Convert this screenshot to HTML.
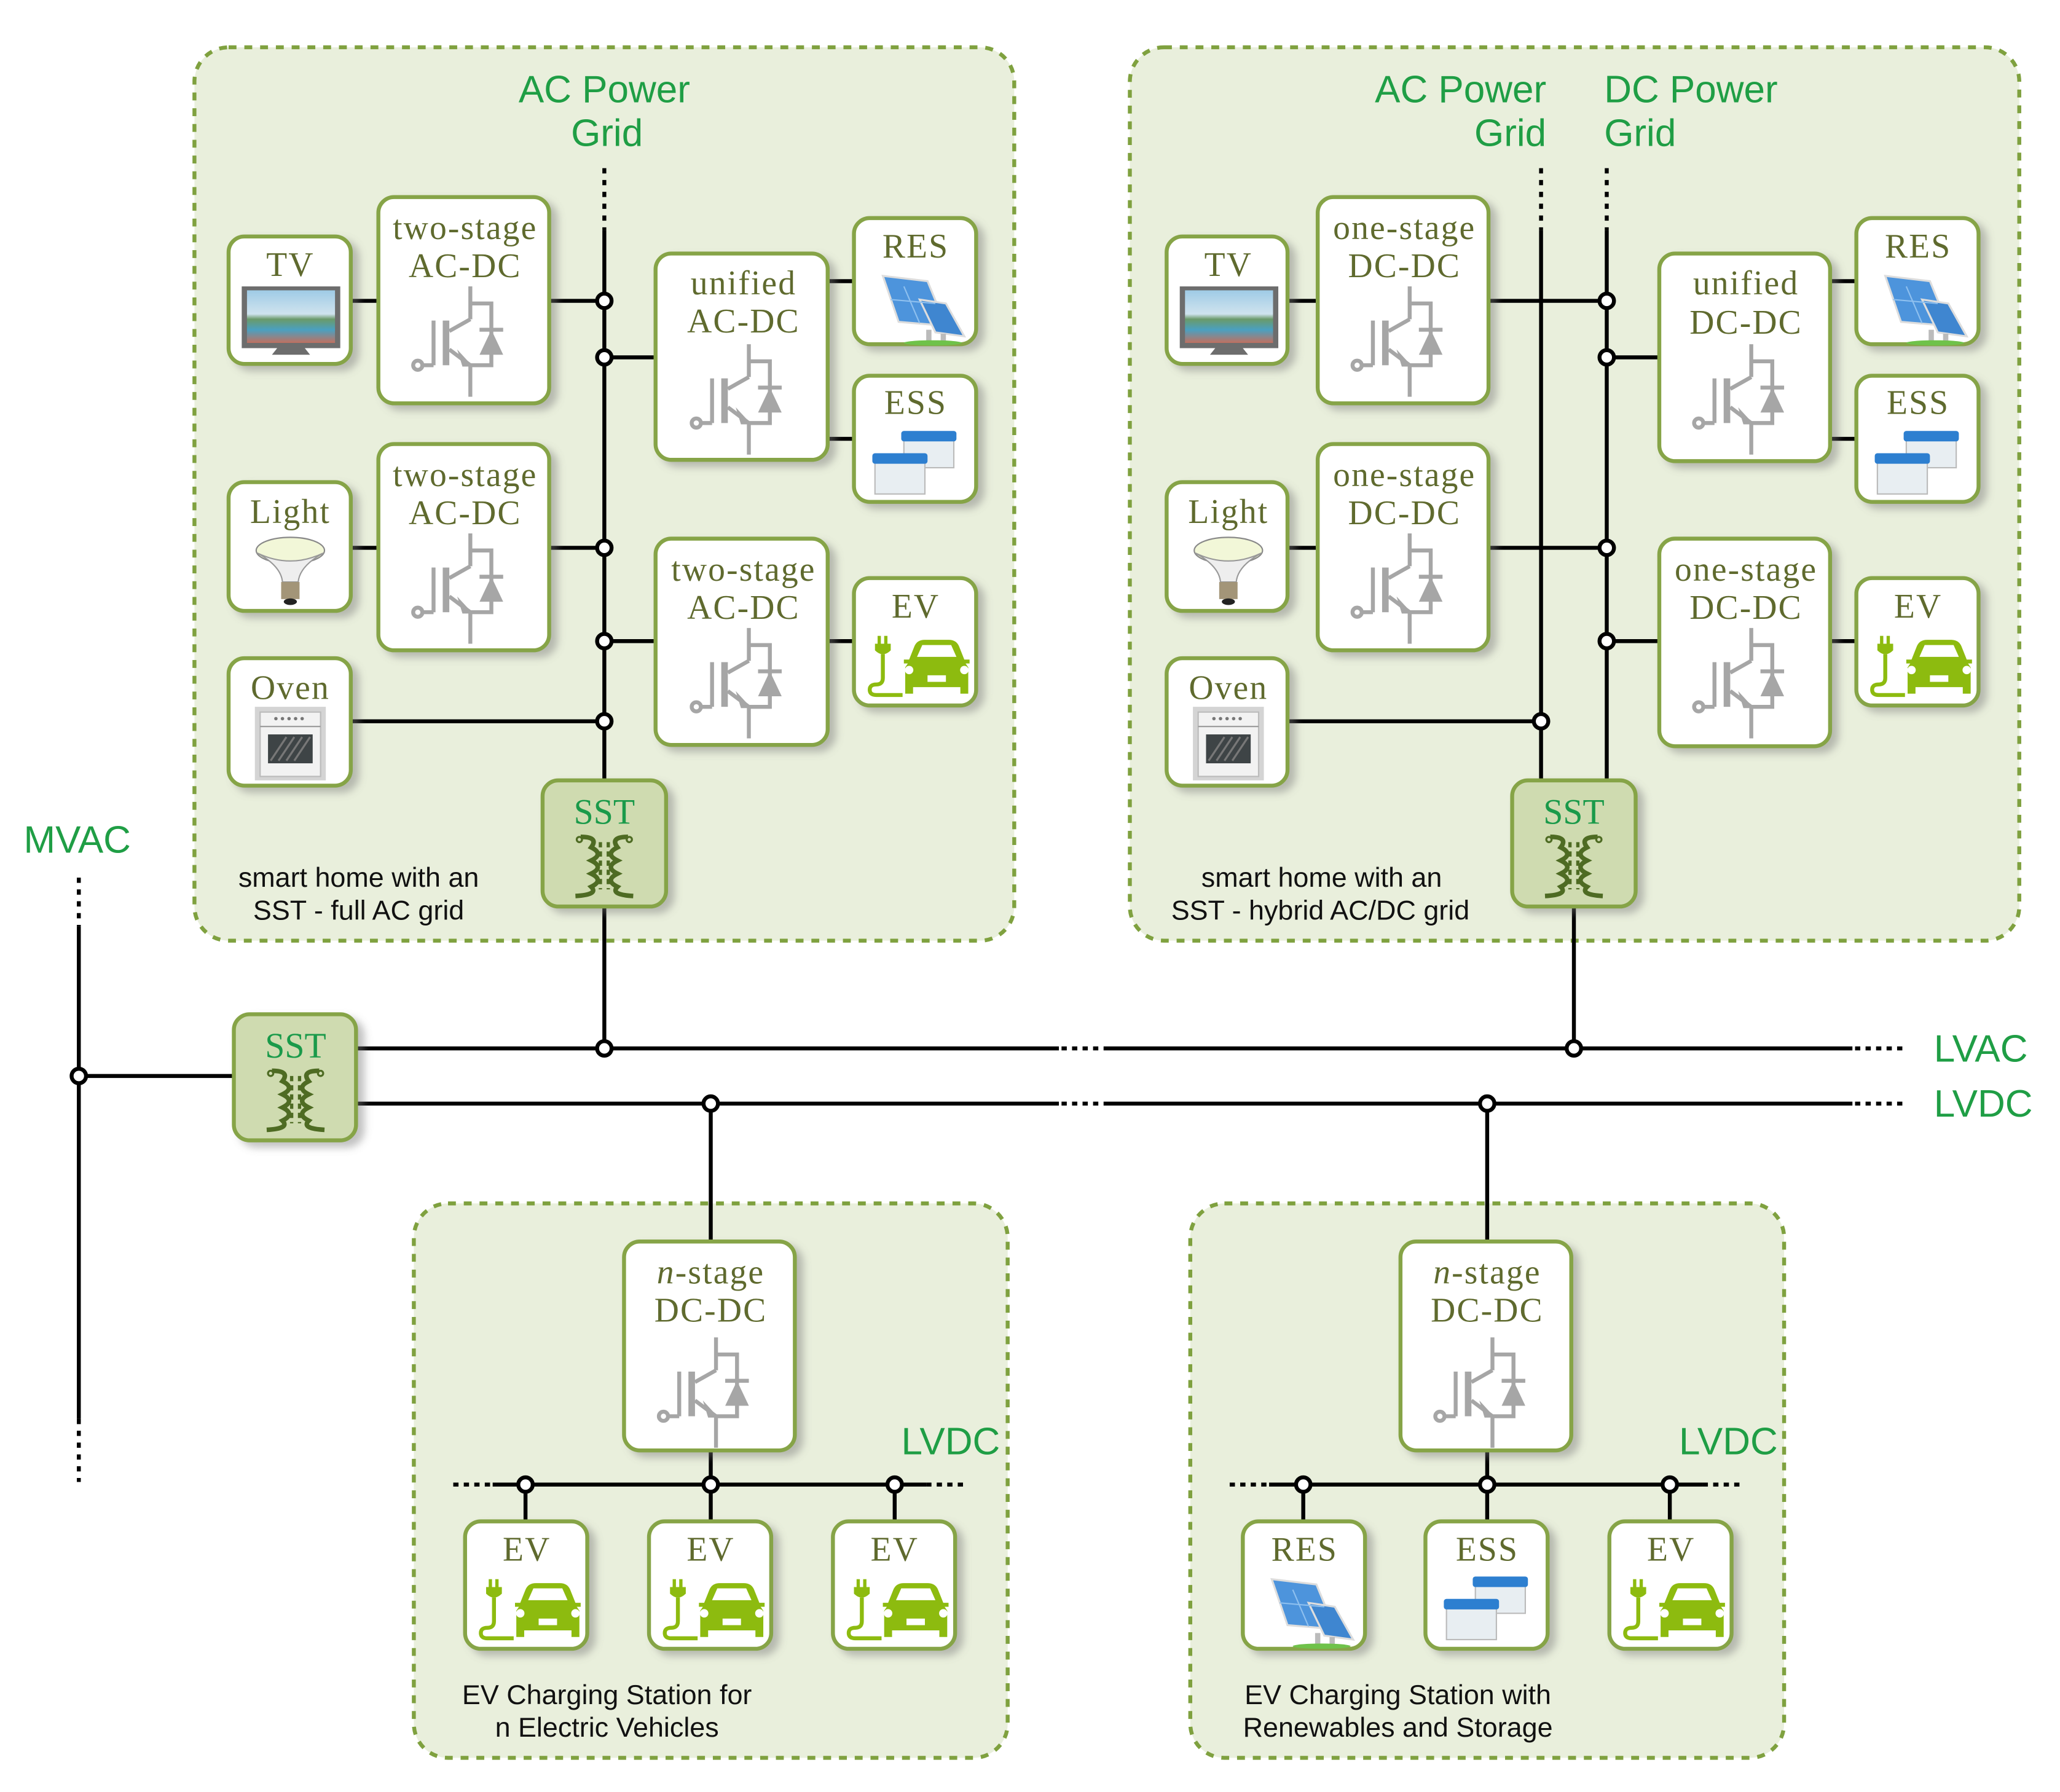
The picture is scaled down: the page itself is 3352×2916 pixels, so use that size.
<!DOCTYPE html>
<html><head><meta charset="utf-8"><style>
html,body{margin:0;padding:0;background:#fff}
svg{display:block}
.lbl{font-family:"Liberation Serif",serif;font-size:26px;fill:#5f6a2e;text-anchor:middle;letter-spacing:1px}
.ttl{font-family:"Liberation Sans",sans-serif;font-size:29px;fill:#1f9e45}
.cap{font-family:"Liberation Sans",sans-serif;font-size:21px;fill:#111}
.sst{font-family:"Liberation Serif",serif;font-size:27px;fill:#1a9a4a;text-anchor:middle}
</style></head><body>
<svg width="3352" height="2916" viewBox="0 0 1568 1364" preserveAspectRatio="none" xmlns="http://www.w3.org/2000/svg">
<defs>
<filter id="sh" x="-20%" y="-20%" width="150%" height="150%"><feDropShadow dx="5" dy="4" stdDeviation="3" flood-color="#777" flood-opacity="0.45"/></filter>
<g id="igbt" fill="none" stroke="#a6a6a6" stroke-width="3">
<rect x="-17" y="-14" width="5" height="34" fill="#a6a6a6" stroke="none"/>
<line x1="-24" y1="-14" x2="-24" y2="20"/>
<line x1="-24" y1="20" x2="-33" y2="20"/>
<circle cx="-36" cy="20" r="3.5"/>
<line x1="-12" y1="-6" x2="4" y2="-15"/>
<line x1="4" y1="-15" x2="4" y2="-40"/>
<polyline points="4,-27 20,-27 20,20 4,20"/>
<line x1="-12" y1="8" x2="4" y2="20"/>
<line x1="4" y1="20" x2="4" y2="44"/>
<line x1="11" y1="-7" x2="29" y2="-7"/>
<polygon points="20,-7 11,12 29,12" fill="#a6a6a6" stroke="none"/>
<polygon points="6,21 -6,8 -2,21" fill="#a6a6a6" stroke="none"/>
</g>
<g id="xfmr" fill="none" stroke="#4e6b23" stroke-width="3.5">
<path d="M-18,-20 q14,0 8,8 q10,5 0,10 q10,5 0,10 q10,5 0,10 q6,6 -12,7"/>
<path d="M18,-20 q-14,0 -8,8 q-10,5 0,10 q-10,5 0,10 q-10,5 0,10 q-6,6 12,7"/>
<circle cx="-19" cy="-18" r="2" stroke-width="1.5"/><circle cx="19" cy="-18" r="2" stroke-width="1.5"/>
<line x1="-3" y1="-16" x2="-3" y2="20" stroke-dasharray="4,3" stroke-width="2.5"/>
<line x1="3" y1="-16" x2="3" y2="20" stroke-dasharray="4,3" stroke-width="2.5"/>
</g>
<linearGradient id="scr" x1="0" y1="0" x2="0" y2="1"><stop offset="0" stop-color="#9fcbe6"/><stop offset="0.45" stop-color="#cfe3ee"/><stop offset="0.55" stop-color="#6a9a6a"/><stop offset="0.75" stop-color="#4aa0c0"/><stop offset="1" stop-color="#c07060"/></linearGradient>
<g id="tv"><rect x="10" y="38" width="75" height="47" fill="#6d6d6d"/><rect x="14" y="41" width="67" height="40" fill="url(#scr)"/><path d="M37,85 L58,85 L62,90 L33,90Z" fill="#6d6d6d"/></g>
<g id="solar"><polygon points="22,44 56,48 70,82 34,79" fill="#4d94dc" stroke="#ddd" stroke-width="1.5"/><polygon points="50,62 70,65 84,90 62,87" fill="#3f86d0" stroke="#ddd" stroke-width="1.5"/><rect x="55" y="85" width="4" height="9" fill="#bbb"/><rect x="66" y="88" width="4" height="6" fill="#bbb"/><line x1="38" y1="52" x2="50" y2="80" stroke="#8ec0ef" stroke-width="1"/><line x1="28" y1="62" x2="62" y2="65" stroke="#8ec0ef" stroke-width="1"/><ellipse cx="60" cy="95" rx="22" ry="2" fill="#6fc24a"/></g>
<g id="ess"><rect x="38" y="44" width="38" height="26" fill="#e8eef2" stroke="#bbb"/><rect x="36" y="42" width="42" height="8" rx="2" fill="#2d7fd0"/><rect x="16" y="62" width="38" height="28" fill="#e8eef2" stroke="#bbb"/><rect x="14" y="59" width="42" height="8" rx="2" fill="#2d7fd0"/></g>
<g id="ev" fill="#8dbb0f"><rect x="18" y="44" width="2.5" height="6"/><rect x="23" y="44" width="2.5" height="6"/><path d="M16,50 h12 v5 q-6,6 -12,0z"/><path d="M22,58 v18 q0,5 -5,5 q-5,0 -5,4 q0,4 5,4 h20" fill="none" stroke="#8dbb0f" stroke-width="3"/><path d="M46,52 q2,-5 8,-5 h18 q6,0 8,5 l4,10 h4 v3 h-3 l2,3 v20 h-6 v-5 h-36 v5 h-6 v-20 l2,-3 h-3 v-3 h4z"/><path d="M48,60 l4,-9 h22 l4,9z" fill="#fff"/><circle cx="42" cy="70" r="3.2" fill="#fff"/><circle cx="84" cy="70" r="3.2" fill="#fff"/><rect x="56" y="74" width="14" height="5" fill="#fff"/></g>
<g id="bulb"><ellipse cx="47" cy="52" rx="26" ry="10" fill="#f2f7d8" stroke="#888"/><path d="M22,54 Q40,64 41,76 L53,76 Q54,64 72,54 Q47,66 22,54Z" fill="#eee" stroke="#999"/><rect x="40" y="76" width="14" height="13" fill="#a39578"/><ellipse cx="47" cy="91" rx="5" ry="2.5" fill="#222"/></g>
<g id="oven"><rect x="20" y="37" width="54" height="56" fill="#d4d4d4"/><rect x="24" y="41" width="46" height="49" fill="#f2f2f2" stroke="#bbb"/><line x1="24" y1="52" x2="70" y2="52" stroke="#999"/><rect x="30" y="58" width="34" height="22" fill="#3e4446"/><g stroke="#777" stroke-width="1.5"><line x1="32" y1="78" x2="44" y2="60"/><line x1="38" y1="78" x2="50" y2="60"/><line x1="44" y1="78" x2="56" y2="60"/><line x1="50" y1="78" x2="62" y2="60"/></g><g fill="#777"><circle cx="36" cy="46" r="1.3"/><circle cx="41" cy="46" r="1.3"/><circle cx="46" cy="46" r="1.3"/><circle cx="51" cy="46" r="1.3"/><circle cx="56" cy="46" r="1.3"/></g></g>
</defs>

<g fill="#e9efdc" stroke="#7fa13f" stroke-width="3" stroke-dasharray="6,6">
<rect x="148" y="36" width="624" height="680" rx="26"/>
<rect x="860" y="36" width="677" height="680" rx="26"/>
<rect x="315" y="916" width="452" height="422" rx="26"/>
<rect x="906" y="916" width="452" height="422" rx="26"/>
</g>

<g stroke="#000" stroke-width="3" fill="none">
<line x1="460" y1="128" x2="460" y2="175" stroke-dasharray="4,5"/>
<line x1="460" y1="175" x2="460" y2="594"/>
<line x1="460" y1="690" x2="460" y2="798"/>
<line x1="267" y1="229" x2="288" y2="229"/><line x1="418" y1="229" x2="460" y2="229"/>
<line x1="460" y1="272" x2="499" y2="272"/>
<line x1="630" y1="214" x2="650" y2="214"/><line x1="630" y1="334" x2="650" y2="334"/>
<line x1="267" y1="417" x2="288" y2="417"/><line x1="418" y1="417" x2="460" y2="417"/>
<line x1="460" y1="488" x2="499" y2="488"/><line x1="630" y1="488" x2="650" y2="488"/>
<line x1="267" y1="549" x2="460" y2="549"/>

<line x1="1173" y1="128" x2="1173" y2="175" stroke-dasharray="4,5"/>
<line x1="1173" y1="175" x2="1173" y2="594"/>
<line x1="1223" y1="128" x2="1223" y2="175" stroke-dasharray="4,5"/>
<line x1="1223" y1="175" x2="1223" y2="594"/>
<line x1="1198" y1="690" x2="1198" y2="798"/>
<line x1="980" y1="229" x2="1003" y2="229"/><line x1="1133" y1="229" x2="1223" y2="229"/>
<line x1="1223" y1="272" x2="1263" y2="272"/>
<line x1="1393" y1="214" x2="1413" y2="214"/><line x1="1393" y1="334" x2="1413" y2="334"/>
<line x1="980" y1="417" x2="1003" y2="417"/><line x1="1133" y1="417" x2="1223" y2="417"/>
<line x1="1223" y1="488" x2="1263" y2="488"/><line x1="1393" y1="488" x2="1413" y2="488"/>
<line x1="980" y1="549" x2="1173" y2="549"/>

<line x1="60" y1="668" x2="60" y2="705" stroke-dasharray="4,5"/>
<line x1="60" y1="705" x2="60" y2="1080"/>
<line x1="60" y1="1080" x2="60" y2="1128" stroke-dasharray="4,5"/>
<line x1="60" y1="819" x2="178" y2="819"/>

<line x1="271" y1="798" x2="806" y2="798"/><line x1="808" y1="798" x2="838" y2="798" stroke-dasharray="4,4"/><line x1="840" y1="798" x2="1410" y2="798"/><line x1="1412" y1="798" x2="1450" y2="798" stroke-dasharray="4,4"/>
<line x1="271" y1="840" x2="806" y2="840"/><line x1="808" y1="840" x2="838" y2="840" stroke-dasharray="4,4"/><line x1="840" y1="840" x2="1410" y2="840"/><line x1="1412" y1="840" x2="1450" y2="840" stroke-dasharray="4,4"/>

<line x1="541" y1="840" x2="541" y2="945"/><line x1="1132" y1="840" x2="1132" y2="945"/>
<line x1="541" y1="1104" x2="541" y2="1130"/><line x1="1132" y1="1104" x2="1132" y2="1130"/>
<line x1="345" y1="1130" x2="375" y2="1130" stroke-dasharray="4,4"/><line x1="375" y1="1130" x2="705" y2="1130"/><line x1="705" y1="1130" x2="737" y2="1130" stroke-dasharray="4,4"/>
<line x1="936" y1="1130" x2="966" y2="1130" stroke-dasharray="4,4"/><line x1="966" y1="1130" x2="1296" y2="1130"/><line x1="1296" y1="1130" x2="1328" y2="1130" stroke-dasharray="4,4"/>
<line x1="400" y1="1130" x2="400" y2="1158"/><line x1="541" y1="1130" x2="541" y2="1158"/><line x1="681" y1="1130" x2="681" y2="1158"/>
<line x1="992" y1="1130" x2="992" y2="1158"/><line x1="1132" y1="1130" x2="1132" y2="1158"/><line x1="1271" y1="1130" x2="1271" y2="1158"/>
</g>

<g fill="#fff" stroke="#86a447" stroke-width="3" filter="url(#sh)">
<rect x="174" y="180" width="93" height="97" rx="12"/>
<rect x="288" y="150" width="130" height="157" rx="12"/>
<rect x="499" y="193" width="131" height="157" rx="12"/>
<rect x="650" y="166" width="93" height="96" rx="12"/>
<rect x="650" y="286" width="93" height="96" rx="12"/>
<rect x="174" y="367" width="93" height="98" rx="12"/>
<rect x="288" y="338" width="130" height="157" rx="12"/>
<rect x="499" y="410" width="131" height="157" rx="12"/>
<rect x="650" y="440" width="93" height="97" rx="12"/>
<rect x="174" y="501" width="93" height="97" rx="12"/>
<rect x="413" y="594" width="94" height="96" rx="12" fill="#cfdbb0"/>

<rect x="888" y="180" width="92" height="97" rx="12"/>
<rect x="1003" y="150" width="130" height="157" rx="12"/>
<rect x="1263" y="193" width="130" height="158" rx="12"/>
<rect x="1413" y="166" width="93" height="96" rx="12"/>
<rect x="1413" y="286" width="93" height="96" rx="12"/>
<rect x="888" y="367" width="92" height="98" rx="12"/>
<rect x="1003" y="338" width="130" height="157" rx="12"/>
<rect x="1263" y="410" width="130" height="158" rx="12"/>
<rect x="1413" y="440" width="93" height="97" rx="12"/>
<rect x="888" y="501" width="92" height="97" rx="12"/>
<rect x="1151" y="594" width="94" height="96" rx="12" fill="#cfdbb0"/>

<rect x="178" y="772" width="93" height="96" rx="12" fill="#cfdbb0"/>

<rect x="475" y="945" width="130" height="159" rx="12"/>
<rect x="354" y="1158" width="93" height="97" rx="12"/>
<rect x="494" y="1158" width="93" height="97" rx="12"/>
<rect x="634" y="1158" width="93" height="97" rx="12"/>
<rect x="1066" y="945" width="130" height="159" rx="12"/>
<rect x="946" y="1158" width="93" height="97" rx="12"/>
<rect x="1085" y="1158" width="93" height="97" rx="12"/>
<rect x="1225" y="1158" width="93" height="97" rx="12"/>
</g>

<g fill="#fff" stroke="#000" stroke-width="3">
<circle cx="460" cy="229" r="5.5"/><circle cx="460" cy="272" r="5.5"/><circle cx="460" cy="417" r="5.5"/><circle cx="460" cy="488" r="5.5"/><circle cx="460" cy="549" r="5.5"/>
<circle cx="1223" cy="229" r="5.5"/><circle cx="1223" cy="272" r="5.5"/><circle cx="1223" cy="417" r="5.5"/><circle cx="1223" cy="488" r="5.5"/><circle cx="1173" cy="549" r="5.5"/>
<circle cx="460" cy="798" r="5.5"/><circle cx="1198" cy="798" r="5.5"/><circle cx="541" cy="840" r="5.5"/><circle cx="1132" cy="840" r="5.5"/><circle cx="60" cy="819" r="5.5"/>
<circle cx="400" cy="1130" r="5.5"/><circle cx="541" cy="1130" r="5.5"/><circle cx="681" cy="1130" r="5.5"/>
<circle cx="992" cy="1130" r="5.5"/><circle cx="1132" cy="1130" r="5.5"/><circle cx="1271" cy="1130" r="5.5"/>
</g>

<use href="#igbt" transform="translate(354,258)"/>
<use href="#igbt" transform="translate(354,446)"/>
<use href="#igbt" transform="translate(566,302)"/>
<use href="#igbt" transform="translate(566,518)"/>
<use href="#igbt" transform="translate(1069,258)"/>
<use href="#igbt" transform="translate(1069,446)"/>
<use href="#igbt" transform="translate(1329,302)"/>
<use href="#igbt" transform="translate(1329,518)"/>
<use href="#igbt" transform="translate(541,1058)"/>
<use href="#igbt" transform="translate(1132,1058)"/>

<use href="#xfmr" transform="translate(460,657)"/>
<use href="#xfmr" transform="translate(1198,657)"/>
<use href="#xfmr" transform="translate(225,835)"/>

<use href="#tv" transform="translate(174,180)"/>
<use href="#tv" transform="translate(888,180)"/>
<use href="#solar" transform="translate(650,166)"/>
<use href="#solar" transform="translate(1413,166)"/>
<use href="#ess" transform="translate(650,286)"/>
<use href="#ess" transform="translate(1413,286)"/>
<use href="#ev" transform="translate(650,440)"/>
<use href="#ev" transform="translate(1413,440)"/>
<use href="#bulb" transform="translate(174,367)"/>
<use href="#bulb" transform="translate(888,367)"/>
<use href="#oven" transform="translate(174,501)"/>
<use href="#oven" transform="translate(888,501)"/>
<use href="#ev" transform="translate(354,1158)"/>
<use href="#ev" transform="translate(494,1158)"/>
<use href="#ev" transform="translate(634,1158)"/>
<use href="#solar" transform="translate(946,1158)"/>
<use href="#ess" transform="translate(1085,1158)"/>
<use href="#ev" transform="translate(1225,1158)"/>

<text class="lbl" x="221" y="210">TV</text>
<text class="lbl" x="354" y="182">two-stage</text><text class="lbl" x="354" y="211">AC-DC</text>
<text class="lbl" x="566" y="224">unified</text><text class="lbl" x="566" y="253">AC-DC</text>
<text class="lbl" x="697" y="196">RES</text>
<text class="lbl" x="697" y="315">ESS</text>
<text class="lbl" x="221" y="398">Light</text>
<text class="lbl" x="354" y="370">two-stage</text><text class="lbl" x="354" y="399">AC-DC</text>
<text class="lbl" x="566" y="442">two-stage</text><text class="lbl" x="566" y="471">AC-DC</text>
<text class="lbl" x="697" y="470">EV</text>
<text class="lbl" x="221" y="532">Oven</text>
<text class="sst" x="460" y="627">SST</text>

<text class="lbl" x="935" y="210">TV</text>
<text class="lbl" x="1069" y="182">one-stage</text><text class="lbl" x="1069" y="211">DC-DC</text>
<text class="lbl" x="1329" y="224">unified</text><text class="lbl" x="1329" y="254">DC-DC</text>
<text class="lbl" x="1460" y="196">RES</text>
<text class="lbl" x="1460" y="315">ESS</text>
<text class="lbl" x="935" y="398">Light</text>
<text class="lbl" x="1069" y="370">one-stage</text><text class="lbl" x="1069" y="399">DC-DC</text>
<text class="lbl" x="1329" y="442">one-stage</text><text class="lbl" x="1329" y="471">DC-DC</text>
<text class="lbl" x="1460" y="470">EV</text>
<text class="lbl" x="935" y="532">Oven</text>
<text class="sst" x="1198" y="627">SST</text>

<text class="sst" x="225" y="805">SST</text>

<text class="lbl" x="541" y="977"><tspan font-style="italic">n</tspan>-stage</text><text class="lbl" x="541" y="1006">DC-DC</text>
<text class="lbl" x="1132" y="977"><tspan font-style="italic">n</tspan>-stage</text><text class="lbl" x="1132" y="1006">DC-DC</text>
<text class="lbl" x="401" y="1188">EV</text><text class="lbl" x="541" y="1188">EV</text><text class="lbl" x="681" y="1188">EV</text>
<text class="lbl" x="993" y="1188">RES</text><text class="lbl" x="1132" y="1188">ESS</text><text class="lbl" x="1272" y="1188">EV</text>

<text class="ttl" x="460" y="78" text-anchor="middle">AC Power</text>
<text class="ttl" x="462" y="111" text-anchor="middle">Grid</text>
<text class="ttl" x="1177" y="78" text-anchor="end">AC Power</text>
<text class="ttl" x="1177" y="111" text-anchor="end">Grid</text>
<text class="ttl" x="1221" y="78">DC Power</text>
<text class="ttl" x="1221" y="111">Grid</text>
<text class="ttl" x="18" y="649">MVAC</text>
<text class="ttl" x="1472" y="808" font-size="28">LVAC</text>
<text class="ttl" x="1472" y="850" font-size="28">LVDC</text>
<text class="ttl" x="686" y="1107" font-size="28">LVDC</text>
<text class="ttl" x="1278" y="1107" font-size="28">LVDC</text>

<text class="cap" x="273" y="675" text-anchor="middle">smart home with an</text>
<text class="cap" x="273" y="700" text-anchor="middle">SST - full AC grid</text>
<text class="cap" x="1006" y="675" text-anchor="middle">smart home with an</text>
<text class="cap" x="1005" y="700" text-anchor="middle">SST -  hybrid AC/DC grid</text>
<text class="cap" x="462" y="1297" text-anchor="middle">EV Charging Station for</text>
<text class="cap" x="462" y="1322" text-anchor="middle">n Electric Vehicles</text>
<text class="cap" x="1064" y="1297" text-anchor="middle">EV Charging Station with</text>
<text class="cap" x="1064" y="1322" text-anchor="middle">Renewables and Storage</text>
</svg>
</body></html>
